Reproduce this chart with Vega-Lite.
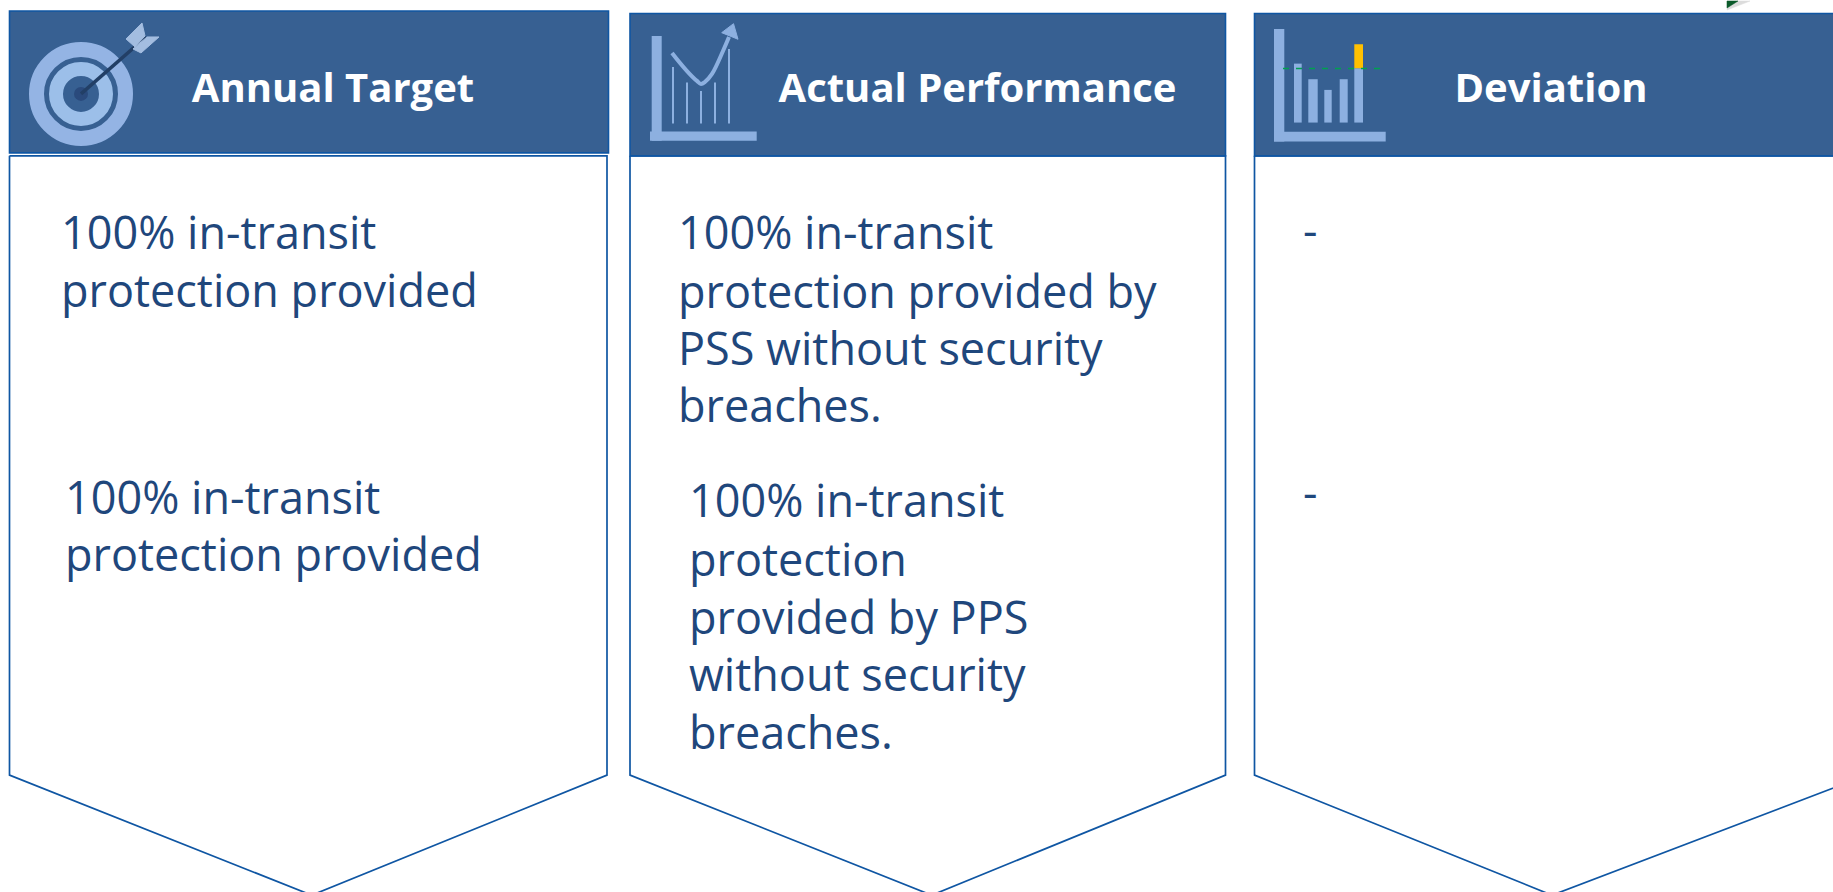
{
"$schema":"https://vega.github.io/schema/vega-lite/v6.json",
"width":1833,"height":892,"padding":0,"autosize":{"type":"fit","contains":"padding"},
"background":"white","config":{"view":{"stroke":null}},
"encoding":{
 "x":{"field":"x","type":"quantitative","axis":null,"scale":{"domain":[0,1833],"nice":false,"zero":false}},
 "y":{"field":"y","type":"quantitative","axis":null,"scale":{"domain":[892,0],"nice":false,"zero":false}}
},
"layer":[
{"data":{"values":[
 {"s":"o1","o":1,"x":9.5,"y":155},{"s":"o1","o":2,"x":607,"y":155},{"s":"o1","o":3,"x":607,"y":775},{"s":"o1","o":4,"x":311.7,"y":895.2},{"s":"o1","o":5,"x":9.5,"y":775},{"s":"o1","o":6,"x":9.5,"y":155},
 {"s":"o2","o":1,"x":630,"y":155},{"s":"o2","o":2,"x":1225.5,"y":155},{"s":"o2","o":3,"x":1225.5,"y":775},{"s":"o2","o":4,"x":931.7,"y":895.2},{"s":"o2","o":5,"x":630,"y":775},{"s":"o2","o":6,"x":630,"y":155},
 {"s":"o3","o":1,"x":1254.5,"y":155},{"s":"o3","o":2,"x":1867,"y":155},{"s":"o3","o":3,"x":1867,"y":775},{"s":"o3","o":4,"x":1552,"y":895.2},{"s":"o3","o":5,"x":1254.5,"y":775},{"s":"o3","o":6,"x":1254.5,"y":155}
]},"mark":{"type":"line","clip":true,"color":"#0f56a3","strokeWidth":1.7},
 "encoding":{"detail":{"field":"s"},"order":{"field":"o"}}},
{"data":{"values":[
 {"x":9.5,"x2":608.5,"y":10,"y2":152},
 {"x":630,"x2":1225.5,"y":12.5,"y2":155},
 {"x":1254.5,"x2":1860,"y":12.5,"y2":155}
]},"mark":{"type":"rect","clip":true,"fill":"#376092","stroke":"#0f56a3","strokeWidth":1.6},
 "encoding":{"x2":{"field":"x2"},"y2":{"field":"y2"}}},
{"data":{"values":[
 {"p":"icon","x":651.7,"x2":661.7,"y":35,"y2":140},
 {"p":"icon","x":650,"x2":756.7,"y":130.7,"y2":140},
 {"p":"icon","x":672,"x2":674,"y":66,"y2":122.7},
 {"p":"icon","x":686,"x2":688,"y":81.7,"y2":122.7},
 {"p":"icon","x":700,"x2":702,"y":90,"y2":122.7},
 {"p":"icon","x":714,"x2":716,"y":81.7,"y2":122.7},
 {"p":"icon","x":728,"x2":730,"y":48,"y2":122.7},
 {"p":"icon","x":1274,"x2":1284.3,"y":28,"y2":140.7},
 {"p":"icon","x":1274,"x2":1385.7,"y":131,"y2":140.7},
 {"p":"icon","x":1294,"x2":1301.7,"y":62.7,"y2":121.7},
 {"p":"icon","x":1308.3,"x2":1317.7,"y":78.3,"y2":121.7},
 {"p":"icon","x":1324.3,"x2":1331.7,"y":89,"y2":121.7},
 {"p":"icon","x":1339.7,"x2":1347.7,"y":78.3,"y2":121.7},
 {"p":"icon","x":1354.3,"x2":1363,"y":67.3,"y2":121.7},
 {"p":"over","x":1354.3,"x2":1363,"y":43.3,"y2":67.3}
]},"mark":{"type":"rect"},
 "encoding":{"x2":{"field":"x2"},"y2":{"field":"y2"},
  "color":{"field":"p","type":"nominal","legend":null,"scale":{"domain":["icon","over"],"range":["#8db0e0","#ffc000"]}}}},
{"data":{"values":[{"x":1283,"y":67.7},{"x":1385,"y":67.7}]},"mark":{"type":"line","color":"#00a050","strokeWidth":1.5,"strokeDash":[6,7]}},
{"data":{"values":[{"x":81,"y":93}]},"mark":{"type":"point","size":7921,"filled":false,"strokeWidth":15,"color":"#94b4e4","opacity":1}},
{"data":{"values":[{"x":81,"y":93}]},"mark":{"type":"point","size":2500,"filled":false,"strokeWidth":14,"color":"#9cbfe9","opacity":1}},
{"data":{"values":[{"x":81,"y":93}]},"mark":{"type":"point","size":196,"filled":true,"color":"#2a4a7c","opacity":1}},
{"data":{"values":[{"x":81,"y":93},{"x":146,"y":36}]},"mark":{"type":"line","color":"#223f66","strokeWidth":3.5}},
{"data":{"values":[
 {"s":"f1","o":1,"x":126,"y":38},{"s":"f1","o":2,"x":142,"y":22},{"s":"f1","o":3,"x":145,"y":35},{"s":"f1","o":4,"x":135,"y":46},{"s":"f1","o":5,"x":126,"y":38},
 {"s":"f2","o":1,"x":133,"y":48},{"s":"f2","o":2,"x":147,"y":36},{"s":"f2","o":3,"x":159,"y":36},{"s":"f2","o":4,"x":141,"y":52},{"s":"f2","o":5,"x":133,"y":48}
]},"mark":{"type":"line","color":"#a3bde0","fill":"#a3bde0","strokeWidth":1},
 "encoding":{"detail":{"field":"s"},"order":{"field":"o"}}},
{"data":{"values":[
 {"o":1,"x":672,"y":52},{"o":2,"x":697,"y":80},{"o":3,"x":701,"y":83},{"o":4,"x":705,"y":81},{"o":5,"x":712,"y":73},{"o":6,"x":723,"y":50},{"o":7,"x":729,"y":36}
]},"mark":{"type":"line","color":"#8db0e0","strokeWidth":4,"interpolate":"monotone"},
 "encoding":{"order":{"field":"o"}}},
{"data":{"values":[
 {"o":1,"x":721.7,"y":31.7},{"o":2,"x":733.5,"y":22.7},{"o":3,"x":738,"y":38.3},{"o":4,"x":721.7,"y":31.7}
]},"mark":{"type":"line","color":"#8db0e0","fill":"#8db0e0","strokeWidth":1},
 "encoding":{"order":{"field":"o"}}},
{"data":{"values":[
 {"o":1,"x":1750,"y":0},{"o":2,"x":1727,"y":0},{"o":3,"x":1727,"y":9},{"o":4,"x":1750,"y":0}
]},"mark":{"type":"line","color":"#dcdcdc","fill":"#dcdcdc","strokeWidth":0.5},
 "encoding":{"order":{"field":"o"}}},
{"data":{"values":[
 {"o":1,"x":1738,"y":0},{"o":2,"x":1727,"y":0},{"o":3,"x":1727,"y":7},{"o":4,"x":1738,"y":0}
]},"mark":{"type":"line","color":"#0b5a2a","fill":"#0b5a2a","strokeWidth":0.5},
 "encoding":{"order":{"field":"o"}}},
{"data":{"values":[
 {"t":"Annual Target","x":333,"y":101},
 {"t":"Actual Performance","x":977.5,"y":101},
 {"t":"Deviation","x":1551,"y":101}
]},"mark":{"type":"text","font":"Open Sans","fontWeight":700,"fontSize":40,"color":"white","align":"center","baseline":"alphabetic"},
 "encoding":{"text":{"field":"t"}}},
{"data":{"values":[
 {"t":"100% in-transit","x":61,"y":248},
 {"t":"protection provided","x":61,"y":306},
 {"t":"100% in-transit","x":65,"y":514},
 {"t":"protection provided","x":65,"y":571},
 {"t":"100% in-transit","x":678,"y":248},
 {"t":"protection provided by","x":678,"y":307},
 {"t":"PSS without security","x":678,"y":364},
 {"t":"breaches.","x":678,"y":421},
 {"t":"100% in-transit","x":689,"y":517},
 {"t":"protection","x":689,"y":576},
 {"t":"provided by PPS","x":689,"y":634},
 {"t":"without security","x":689,"y":691},
 {"t":"breaches.","x":689,"y":749},
 {"t":"-","x":1303,"y":246},
 {"t":"-","x":1303,"y":509}
]},"mark":{"type":"text","font":"Open Sans","fontSize":45,"fontWeight":400,"color":"#1f477c","align":"left","baseline":"alphabetic"},
 "encoding":{"text":{"field":"t"}}}
]}
